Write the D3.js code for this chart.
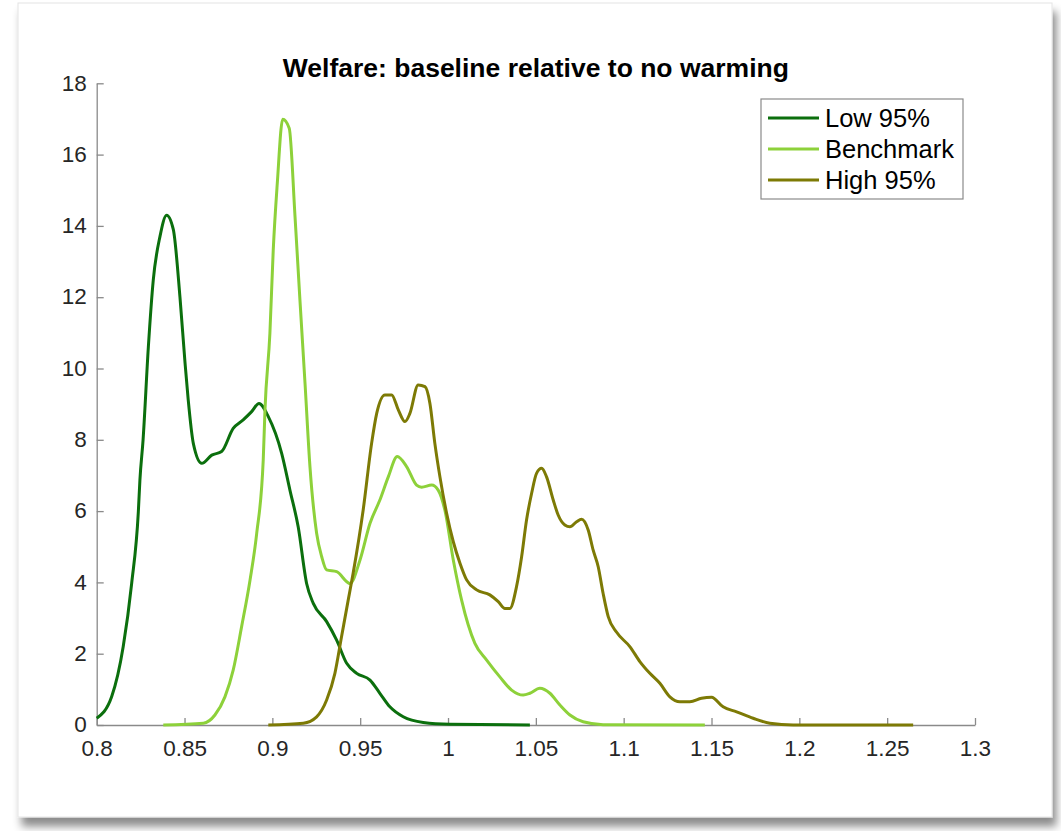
<!DOCTYPE html>
<html>
	<head>
		<meta charset="utf-8">
		<style type="text/css">
			body,html{
				margin:0;
				padding:0;
				background:#fff;
			}
			svg{
				display:block;
				font-family:"Liberation Sans", Arial, sans-serif;
			}
			.axis path, .axis line{
				stroke:#8a8a8a;
				stroke-width:1.3;
			}
			.axis text{
				fill:#262626;
				font-size:22.5px;
			}
		</style>
		<script src="https://cdnjs.cloudflare.com/ajax/libs/d3/7.8.5/d3.min.js"></script>
	</head>
	<body>
		<svg id="svg" width="1061" height="831"></svg>

		<script type="text/javascript">

			// values
			var chartTitle = "Welfare: baseline relative to no warming";
			var seriesNames = ["Low 95%", "Benchmark", "High 95%"];
			var seriesColors = ["#0b6f0d", "#8dd13a", "#7d7a05"];

			var lowX = [0.8, 0.8085, 0.8151, 0.8199, 0.8237, 0.8246, 0.8264, 0.8294, 0.8322, 0.836, 0.8398, 0.8436, 0.8474, 0.8503, 0.8521, 0.855, 0.8598, 0.8655, 0.8711, 0.8777, 0.8834, 0.8882, 0.8924, 0.8977, 0.9053, 0.91, 0.9147, 0.9195, 0.9233, 0.9309, 0.9366, 0.9423, 0.948, 0.9556, 0.9612, 0.9669, 0.9745, 0.9859, 1.0011, 1.0466];
			var lowY = [0.19, 0.79, 2.2, 3.97, 5.98, 6.87, 8.0, 10.6, 12.48, 13.7, 14.3, 13.9, 12.0, 10.15, 9.12, 7.9, 7.34, 7.57, 7.67, 8.32, 8.56, 8.79, 9.02, 8.65, 7.62, 6.59, 5.56, 3.97, 3.41, 2.9, 2.38, 1.73, 1.45, 1.26, 0.89, 0.51, 0.23, 0.07, 0.02, 0];

			var benchX = [0.8379, 0.8607, 0.8673, 0.873, 0.8777, 0.8825, 0.8873, 0.8911, 0.8948, 0.8958, 0.8986, 0.9005, 0.9028, 0.9059, 0.9096, 0.9129, 0.9157, 0.9186, 0.9214, 0.9252, 0.9281, 0.9309, 0.9366, 0.9442, 0.9499, 0.9556, 0.9612, 0.966, 0.9711, 0.9764, 0.9821, 0.985, 0.9907, 0.9944, 0.9982, 1.003, 1.0077, 1.0153, 1.022, 1.0295, 1.0362, 1.0428, 1.0466, 1.0523, 1.058, 1.0637, 1.0694, 1.0769, 1.0883, 1.1462];
			var benchY = [0, 0.05, 0.28, 0.79, 1.54, 2.76, 4.07, 5.38, 7.43, 8.84, 10.99, 13.32, 15.19, 16.99, 16.74, 14.26, 11.92, 9.58, 7.25, 5.38, 4.72, 4.35, 4.3, 3.97, 4.63, 5.66, 6.31, 6.96, 7.53, 7.25, 6.73, 6.67, 6.73, 6.59, 6.03, 4.63, 3.51, 2.29, 1.82, 1.35, 0.98, 0.84, 0.89, 1.03, 0.89, 0.56, 0.28, 0.09, 0.01, 0];

			var highX = [0.8977, 0.9176, 0.9252, 0.9309, 0.9356, 0.9394, 0.9432, 0.946, 0.9517, 0.9565, 0.9594, 0.9641, 0.9679, 0.9717, 0.9755, 0.9783, 0.983, 0.9869, 0.9897, 0.9925, 0.9954, 0.9992, 1.003, 1.0068, 1.0106, 1.0163, 1.0238, 1.0286, 1.0324, 1.0352, 1.039, 1.0419, 1.0447, 1.0476, 1.0504, 1.0533, 1.0561, 1.0599, 1.0627, 1.0665, 1.0694, 1.0732, 1.076, 1.0798, 1.0826, 1.0855, 1.0883, 1.0912, 1.096, 1.1035, 1.1092, 1.1149, 1.1206, 1.1263, 1.132, 1.1377, 1.1443, 1.15, 1.1566, 1.1643, 1.1737, 1.1832, 1.1965, 1.2648];
			var highY = [0, 0.05, 0.23, 0.7, 1.45, 2.48, 3.51, 4.26, 6.03, 7.9, 8.74, 9.26, 9.26, 8.84, 8.51, 8.74, 9.54, 9.49, 9.02, 7.9, 6.96, 5.94, 5.14, 4.54, 4.07, 3.79, 3.65, 3.46, 3.27, 3.27, 3.88, 4.72, 5.75, 6.5, 7.06, 7.2, 6.96, 6.31, 5.89, 5.61, 5.56, 5.7, 5.77, 5.47, 4.91, 4.44, 3.69, 3.04, 2.6, 2.2, 1.78, 1.45, 1.17, 0.79, 0.65, 0.65, 0.75, 0.78, 0.51, 0.37, 0.19, 0.05, 0, 0];

			var xTicks = [0.8, 0.85, 0.9, 0.95, 1, 1.05, 1.1, 1.15, 1.2, 1.25, 1.3];
			var yTicks = [0, 2, 4, 6, 8, 10, 12, 14, 16, 18];

			var svg = d3.select("#svg");

			// card with a shadow
			var defs = svg.append("defs");
			var f = defs.append("filter").attr("id", "shadow")
				.attr("x", "-5%").attr("y", "-5%").attr("width", "110%").attr("height", "112%");
			f.append("feDropShadow").attr("dx", 4).attr("dy", 9)
				.attr("stdDeviation", 4).attr("flood-color", "#000").attr("flood-opacity", 0.45);

			svg.append("rect")
				.attr("x", 18).attr("y", 3)
				.attr("width", 1034).attr("height", 814)
				.attr("fill", "#fff")
				.attr("stroke", "#e4e4e4")
				.attr("filter", "url(#shadow)");

			var x = d3.scaleLinear().domain([0.8, 1.3]).range([96.7, 975]);
			var y = d3.scaleLinear().domain([0, 18]).range([725, 83.3]);

			var xAxis = svg.append("g").attr("class", "axis")
				.attr("transform", "translate(0," + y(0) + ")")
				.call(d3.axisBottom(x).tickValues(xTicks).tickSize(-7).tickSizeOuter(0)
					.tickFormat(function(d){ return d3.format("")(+d.toFixed(2)); }))
				.attr("font-family", "Liberation Sans, Arial, sans-serif");
			xAxis.selectAll("text").attr("y", 15);

			var yAxis = svg.append("g").attr("class", "axis")
				.attr("transform", "translate(" + x(0.8) + ",0)")
				.call(d3.axisLeft(y).tickValues(yTicks).tickSize(-7).tickSizeOuter(0))
				.attr("font-family", "Liberation Sans, Arial, sans-serif");
			yAxis.selectAll("text").attr("x", -10).attr("dy", "0.3em");

			var series = [
				{xs:lowX, ys:lowY},
				{xs:benchX, ys:benchY},
				{xs:highX, ys:highY}
			];

			var line = d3.line()
				.x(function(d){ return x(d[0]); })
				.y(function(d){ return y(d[1]); })
				.curve(d3.curveMonotoneX);

			series.forEach(function(s, i){
				var pts = s.xs.map(function(v, k){ return [v, s.ys[k]]; });
				svg.append("path")
					.datum(pts)
					.attr("d", line)
					.attr("fill", "none")
					.attr("stroke", seriesColors[i])
					.attr("stroke-width", 3)
					.attr("stroke-linejoin", "round");
			});

			svg.append("text")
				.attr("x", (x(0.8) + x(1.3)) / 2)
				.attr("y", 77)
				.attr("text-anchor", "middle")
				.attr("font-weight", "bold")
				.attr("font-size", "26.5px")
				.attr("fill", "#000")
				.text(chartTitle);

			// legend
			var legend = svg.append("g").attr("transform", "translate(761,99)");
			legend.append("rect")
				.attr("width", 202).attr("height", 100)
				.attr("fill", "#fff").attr("stroke", "#8a8a8a").attr("stroke-width", 1.2);

			seriesNames.forEach(function(name, i){
				var cy = 19 + i * 31;
				legend.append("line")
					.attr("x1", 7).attr("x2", 58)
					.attr("y1", cy).attr("y2", cy)
					.attr("stroke", seriesColors[i]).attr("stroke-width", 3);
				legend.append("text")
					.attr("x", 64).attr("y", cy)
					.attr("dy", "0.36em")
					.attr("font-size", "25.5px")
					.attr("fill", "#000")
					.text(name);
			});

		</script>
	</body>
</html>
